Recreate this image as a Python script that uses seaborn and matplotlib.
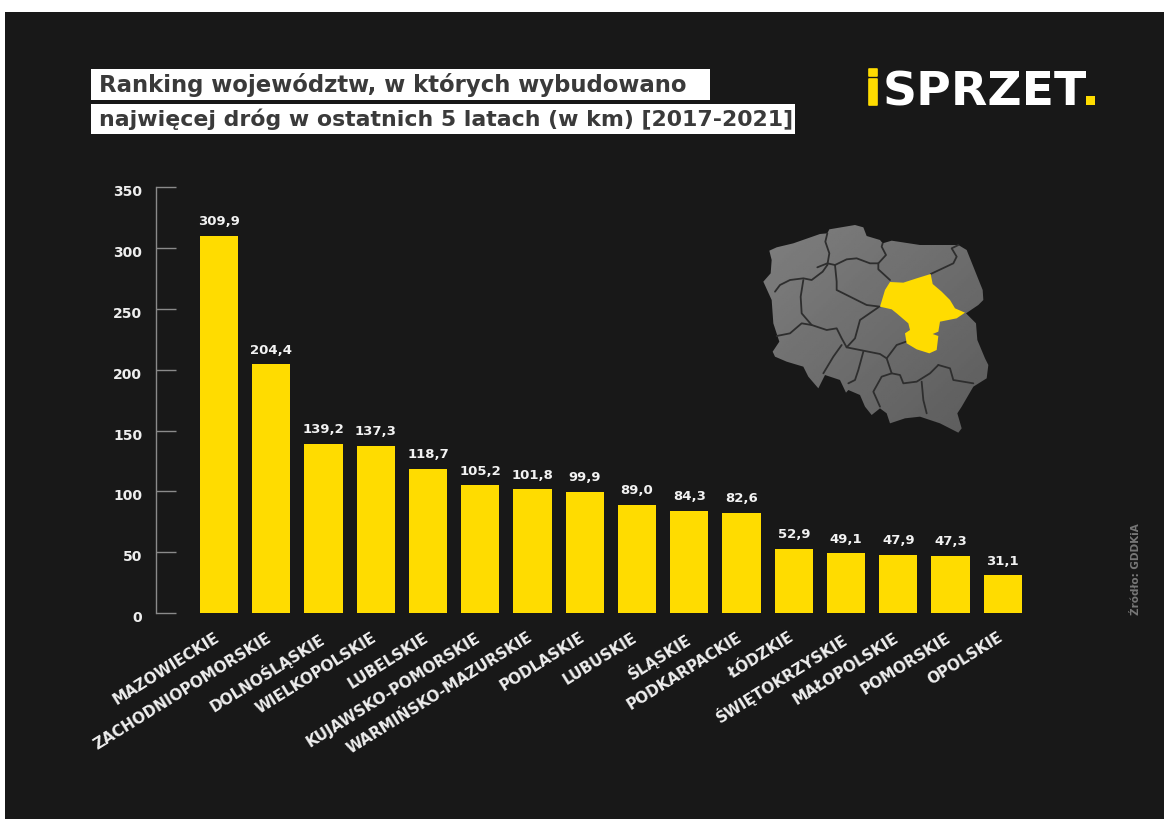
import matplotlib
matplotlib.use("Agg")
import matplotlib.pyplot as plt
import matplotlib.patheffects as pe
from matplotlib.patches import Polygon, Rectangle
from matplotlib.transforms import ScaledTranslation
import seaborn as sns
import pandas as pd
import numpy as np

wojewodztwa = ["MAZOWIECKIE", "ZACHODNIOPOMORSKIE", "DOLNOŚLĄSKIE", "WIELKOPOLSKIE",
               "LUBELSKIE", "KUJAWSKO-POMORSKIE", "WARMIŃSKO-MAZURSKIE", "PODLASKIE",
               "LUBUSKIE", "ŚLĄSKIE", "PODKARPACKIE", "ŁÓDZKIE", "ŚWIĘTOKRZYSKIE",
               "MAŁOPOLSKIE", "POMORSKIE", "OPOLSKIE"]
km = [309.9, 204.4, 139.2, 137.3, 118.7, 105.2, 101.8, 99.9,
      89.0, 84.3, 82.6, 52.9, 49.1, 47.9, 47.3, 31.1]
y_ticks = [0, 50, 100, 150, 200, 250, 300, 350]
title_lines = ["Ranking województw, w których wybudowano",
               "najwięcej dróg w ostatnich 5 latach (w km) [2017-2021]"]

# mapa - wspolrzedne z powiekszenia (780x720)
map_outline = [(88, 122), (110, 112), (160, 100), (240, 72), (262, 70), (268, 58), (345, 45), (370, 52),
               (380, 78), (420, 90), (428, 100), (455, 92), (540, 105), (655, 105), (680, 120), (700, 170),
               (728, 240), (730, 270), (715, 285), (678, 310), (708, 340), (712, 390), (735, 445), (745, 465),
               (740, 505), (700, 530), (665, 590), (652, 610), (665, 655), (655, 668), (600, 640), (540, 620),
               (495, 625), (450, 640), (440, 610), (420, 595), (395, 615), (375, 590), (360, 555), (325, 540),
               (318, 548), (300, 510), (255, 495), (235, 535), (205, 500), (190, 470), (140, 455), (105, 440),
               (98, 425), (118, 395), (100, 340), (95, 270), (70, 215), (92, 190), (95, 150)]
map_yellow = [(572, 192), (578, 222), (605, 245), (630, 270), (645, 295), (675, 308), (650, 325), (600, 335),
              (595, 365), (578, 372), (595, 378), (590, 420), (568, 430), (530, 418), (500, 400), (495, 370),
              (510, 360), (505, 340), (470, 310), (455, 298), (420, 290), (435, 240), (450, 216), (490, 218),
              (530, 205)]
map_seams = [
    [(262, 70), (256, 95), (268, 130), (262, 165)],
    [(232, 172), (262, 160), (285, 165), (320, 148), (350, 145), (390, 160), (415, 160), (438, 135), (425, 110), (428, 100)],
    [(415, 160), (415, 178), (450, 210)],
    [(572, 192), (640, 160), (650, 140), (635, 115), (655, 105)],
    [(285, 165), (290, 215), (290, 240), (330, 260), (380, 285), (420, 290)],
    [(105, 245), (120, 225), (150, 210), (190, 205), (215, 210), (248, 185), (262, 165)],
    [(190, 210), (182, 260), (185, 310), (215, 345), (260, 360), (290, 355), (305, 385), (320, 412), (345, 385), (360, 330), (415, 292)],
    [(110, 378), (150, 370), (185, 340), (215, 345)],
    [(305, 405), (280, 440), (250, 490)],
    [(370, 425), (355, 480), (345, 510), (325, 520)],
    [(320, 412), (370, 422), (420, 432), (440, 445), (470, 405), (498, 395)],
    [(440, 445), (455, 490), (480, 495), (490, 520), (530, 515), (570, 490), (595, 465)],
    [(455, 490), (425, 500), (400, 545), (420, 590)],
    [(545, 515), (550, 570), (560, 610)],
    [(595, 465), (630, 475), (640, 510), (700, 520)],
]

DARK = "#181818"
YELLOW = "#ffdc00"
FONT = "DejaVu Sans"
W, H = 1164, 819


def map_xy(points):
    return [(740 + x / 3, 210 + y / 3) for x, y in points]


sns.set_theme(style="dark")
plt.rcParams["font.family"] = FONT

fig = plt.figure(figsize=(W / 100, H / 100), dpi=100, facecolor="white")

# warstwa w pikselach: tlo, tytul, logo, mapa
bg = fig.add_axes([0, 0, 1, 1], zorder=0)
bg.set_xlim(0, W)
bg.set_ylim(H, 0)
bg.axis("off")
bg.add_patch(Rectangle((5, 12), W - 5, H - 12, color=DARK, lw=0))

bg.add_patch(Rectangle((91, 69), 619, 31, color="white", lw=0))
bg.add_patch(Rectangle((91, 104), 704, 30, color="white", lw=0))
for txt, yc, fs in zip(title_lines, [85, 119], [16.4, 15.8]):
    bg.text(99, yc, txt, color="#3a3a3a", fontsize=fs, fontweight="bold", va="center", ha="left")

bg.text(865, 105, "i", color=YELLOW, fontsize=34, fontweight="bold", va="baseline",
        path_effects=[pe.withStroke(linewidth=1.2, foreground=YELLOW)])
bg.text(883, 105, "SPRZET", color="white", fontsize=34, fontweight="bold", va="baseline")
bg.add_patch(Rectangle((1086, 96), 9, 9, color=YELLOW, lw=0))

# mapa z lekkim gradientem
outline = Polygon(map_xy(map_outline), closed=True, transform=bg.transData, fc="none", ec="none")
bg.add_patch(outline)
grad = np.linspace(0, 1, 100)
shade = np.add.outer(grad, grad) / 2
im = bg.imshow(shade, extent=(760, 990, 435, 220), cmap="gray_r", vmin=-3.57, vmax=3.57,
               aspect="auto", interpolation="bilinear", zorder=1)
im.set_clip_path(outline)
bg.set_xlim(0, W)
bg.set_ylim(H, 0)
for seam in map_seams:
    xs, ys = zip(*map_xy(seam))
    bg.plot(xs, ys, color="#2e2e2e", lw=1.3, zorder=2)
bg.add_patch(Polygon(map_xy(map_yellow), closed=True, color=YELLOW, lw=0, zorder=3))

bg.text(1136, 615, "Źródło: GDDKiA", color="#777777", fontsize=7.5, fontweight="bold",
        rotation=90, ha="center", va="bottom")

# wykres
left, right = 156, 1030
top, bottom = 187, 613.3
ax = fig.add_axes([left / W, 1 - bottom / H, (right - left) / W, (bottom - top) / H], zorder=1)
ax.patch.set_alpha(0)

t = pd.DataFrame({"woj": wojewodztwa, "km": km})
sns.barplot(data=t, x="woj", y="km", color=YELLOW, saturation=1, width=0.73, linewidth=0, ax=ax)
ax.set_xlim(-1.205, 15.52)
ax.set_ylim(0, 350)
ax.set_xlabel("")
ax.set_ylabel("")
ax.grid(False)

for s in ["top", "right", "bottom"]:
    ax.spines[s].set_visible(False)
ax.spines["left"].set_color("#8a8a8a")
ax.spines["left"].set_linewidth(1)

ax.set_yticks(y_ticks)
ax.tick_params(axis="y", direction="in", length=14.5, width=1, color="#8a8a8a", pad=10,
               labelcolor="#eeeeee", labelsize=10, left=True)
for lab in ax.get_yticklabels():
    lab.set_fontweight("bold")
    lab.set_va("top")
    lab.set_transform(lab.get_transform() + ScaledTranslation(0, 2 / 100, fig.dpi_scale_trans))

ax.tick_params(axis="x", length=0, pad=12)
ax.set_xticks(range(len(wojewodztwa)))
ax.set_xticklabels(wojewodztwa, rotation=32, ha="right", rotation_mode="anchor",
                   color="#eeeeee", fontsize=11, fontweight="bold")
for lab in ax.get_xticklabels():
    lab.set_transform(lab.get_transform() + ScaledTranslation(-5 / 100, 0, fig.dpi_scale_trans))

labels = [format(v, ".1f").replace(".", ",") for v in km]
ax.bar_label(ax.containers[0], labels=labels, padding=5.5, color="#f2f2f2", fontsize=9.5, fontweight="bold")

fig.savefig("out.png", dpi=100, facecolor=fig.get_facecolor())
